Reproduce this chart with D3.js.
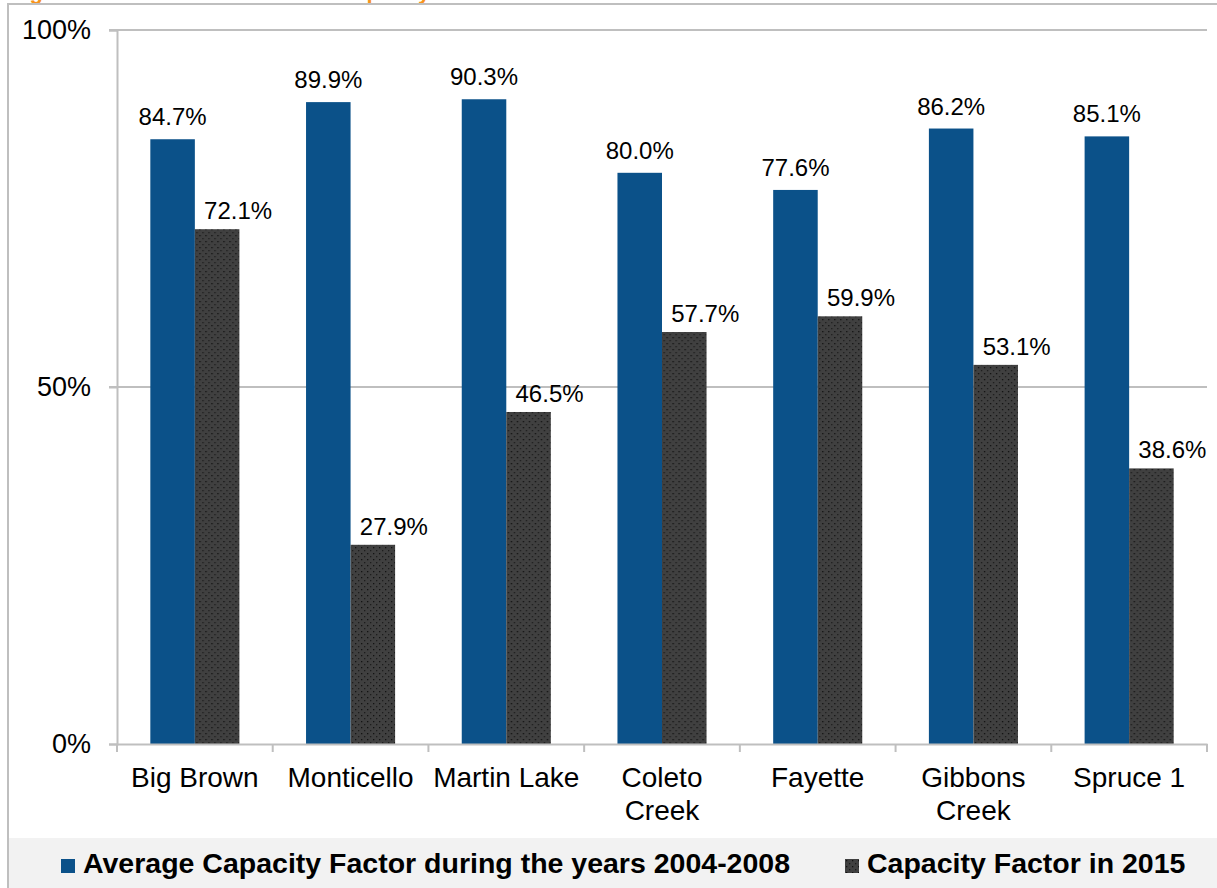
<!DOCTYPE html>
<html>
<head>
<meta charset="utf-8">
<script src="https://cdn.jsdelivr.net/npm/d3@7"></script>
<style>
html,body{margin:0;padding:0;background:#fff;overflow:hidden;}
svg{display:block;font-family:"Liberation Sans",Arial,sans-serif;}
</style>
</head>
<body>
<svg id="chart" width="1217" height="888"></svg>
<script>
const categories = [["Big Brown"],["Monticello"],["Martin Lake"],["Coleto","Creek"],["Fayette"],["Gibbons","Creek"],["Spruce 1"]];
const seriesNames = ["Average Capacity Factor during the years 2004-2008","Capacity Factor in 2015"];
const avg0408 = [84.7, 89.9, 90.3, 80.0, 77.6, 86.2, 85.1];
const cf2015 = [72.1, 27.9, 46.5, 57.7, 59.9, 53.1, 38.6];
const yTicks = [0, 50, 100];
const titleText = "Figure 2: Texas Coal Plant Unit Capacity Factors";

const svg = d3.select("#chart");
const W = 1217, H = 888;
const plot = {left:117, right:1207, top:30, bottom:744};

// pattern for dark bars
const defs = svg.append("defs");
const pat = defs.append("pattern").attr("id","dots").attr("patternUnits","userSpaceOnUse")
  .attr("width",6).attr("height",6);
pat.append("rect").attr("width",6).attr("height",6).attr("fill","#404040");
pat.append("rect").attr("x",1).attr("y",1).attr("width",1.3).attr("height",1.3).attr("fill","#111");
pat.append("rect").attr("x",4).attr("y",4).attr("width",1.3).attr("height",1.3).attr("fill","#1c1c1c");

// cut-off orange title (only its descenders show, as in the reference)
svg.append("text").attr("x",10).attr("y",-1.5).attr("font-size",22).attr("font-weight","bold")
  .attr("fill","#f7941d").text(titleText);

// outer frame and legend band
svg.append("rect").attr("x",9).attr("y",838).attr("width",W).attr("height",60).attr("fill","#f2f2f2");
svg.append("rect").attr("x",8).attr("y",4).attr("width",W+10).attr("height",H+10)
  .attr("fill","none").attr("stroke","#bfbfbf").attr("stroke-width",2);

const keys = categories.map(c => c.join(" "));
const x = d3.scaleBand().domain(keys).range([plot.left, plot.right]).padding(0);
const inner = d3.scaleBand().domain([0,1]).range([0, x.bandwidth()*0.572]).padding(0);
const y = d3.scaleLinear().domain([0,100]).range([plot.bottom, plot.top]);

// gridlines
svg.append("g").selectAll("line").data(yTicks.filter(t=>t>0)).join("line")
  .attr("x1",plot.left-8).attr("x2",plot.right)
  .attr("y1",d=>y(d)).attr("y2",d=>y(d))
  .attr("stroke","#bfbfbf").attr("stroke-width",2);

// y axis
const yAxis = svg.append("g").attr("transform",`translate(${plot.left},0)`)
  .call(d3.axisLeft(y).tickValues(yTicks).tickFormat(d=>d+"%").tickSize(8).tickPadding(18));
yAxis.select(".domain").attr("stroke","#bfbfbf").attr("stroke-width",2);
yAxis.selectAll(".tick line").attr("stroke","#bfbfbf").attr("stroke-width",2);
yAxis.selectAll("text").attr("font-size",27).attr("fill","#000").attr("font-family","Liberation Sans, Arial, sans-serif");

// bars
const groups = svg.append("g").selectAll("g").data(keys).join("g")
  .attr("transform",d=>`translate(${x(d)+(x.bandwidth()-inner.range()[1])/2},0)`);
groups.append("rect").attr("x",inner(0)).attr("width",inner.bandwidth())
  .attr("y",(d,i)=>y(avg0408[i])).attr("height",(d,i)=>y(0)-y(avg0408[i])).attr("fill","#0b5189");
groups.append("rect").attr("x",inner(1)).attr("width",inner.bandwidth())
  .attr("y",(d,i)=>y(cf2015[i])).attr("height",(d,i)=>y(0)-y(cf2015[i])).attr("fill","url(#dots)");

// data labels
groups.append("text").attr("x",inner(0)+inner.bandwidth()/2).attr("y",(d,i)=>y(avg0408[i])-14)
  .attr("text-anchor","middle").attr("font-size",24).attr("fill","#000")
  .text((d,i)=>avg0408[i].toFixed(1)+"%");
groups.append("text").attr("x",inner(1)+inner.bandwidth()/2+21).attr("y",(d,i)=>y(cf2015[i])-10)
  .attr("text-anchor","middle").attr("font-size",24).attr("fill","#000")
  .text((d,i)=>cf2015[i].toFixed(1)+"%");

// x axis
const xAxis = svg.append("g").attr("transform",`translate(0,${plot.bottom})`)
  .call(d3.axisBottom(x).tickSize(0).tickFormat(""));
xAxis.select(".domain").attr("stroke","#bfbfbf").attr("stroke-width",2);
xAxis.selectAll(".tick").remove();
svg.append("g").selectAll("line").data(keys.map(k=>x(k)).concat([plot.right])).join("line")
  .attr("x1",d=>d).attr("x2",d=>d).attr("y1",plot.bottom).attr("y2",plot.bottom+8)
  .attr("stroke","#bfbfbf").attr("stroke-width",2);
const catLabels = svg.append("g").selectAll("text").data(categories).join("text")
  .attr("x",(d,i)=>x(keys[i])+x.bandwidth()/2).attr("y",787)
  .attr("text-anchor","middle").attr("font-size",28).attr("fill","#000");
catLabels.selectAll("tspan").data(d=>d).join("tspan")
  .attr("x",function(){return this.parentNode.getAttribute("x");})
  .attr("dy",(d,i)=>i===0?0:33).text(d=>d);

// legend
const legendItems = [
  {name:seriesNames[0], fill:"#0b5189", x:61},
  {name:seriesNames[1], fill:"url(#dots)", x:845}];
const lg = svg.append("g").selectAll("g").data(legendItems).join("g")
  .attr("transform",d=>`translate(${d.x},859)`);
lg.append("rect").attr("width",14).attr("height",14).attr("fill",d=>d.fill);
lg.append("text").attr("x",22).attr("y",14).attr("font-size",28.5).attr("font-weight","bold")
  .attr("fill","#000").text(d=>d.name);
</script>
</body>
</html>
